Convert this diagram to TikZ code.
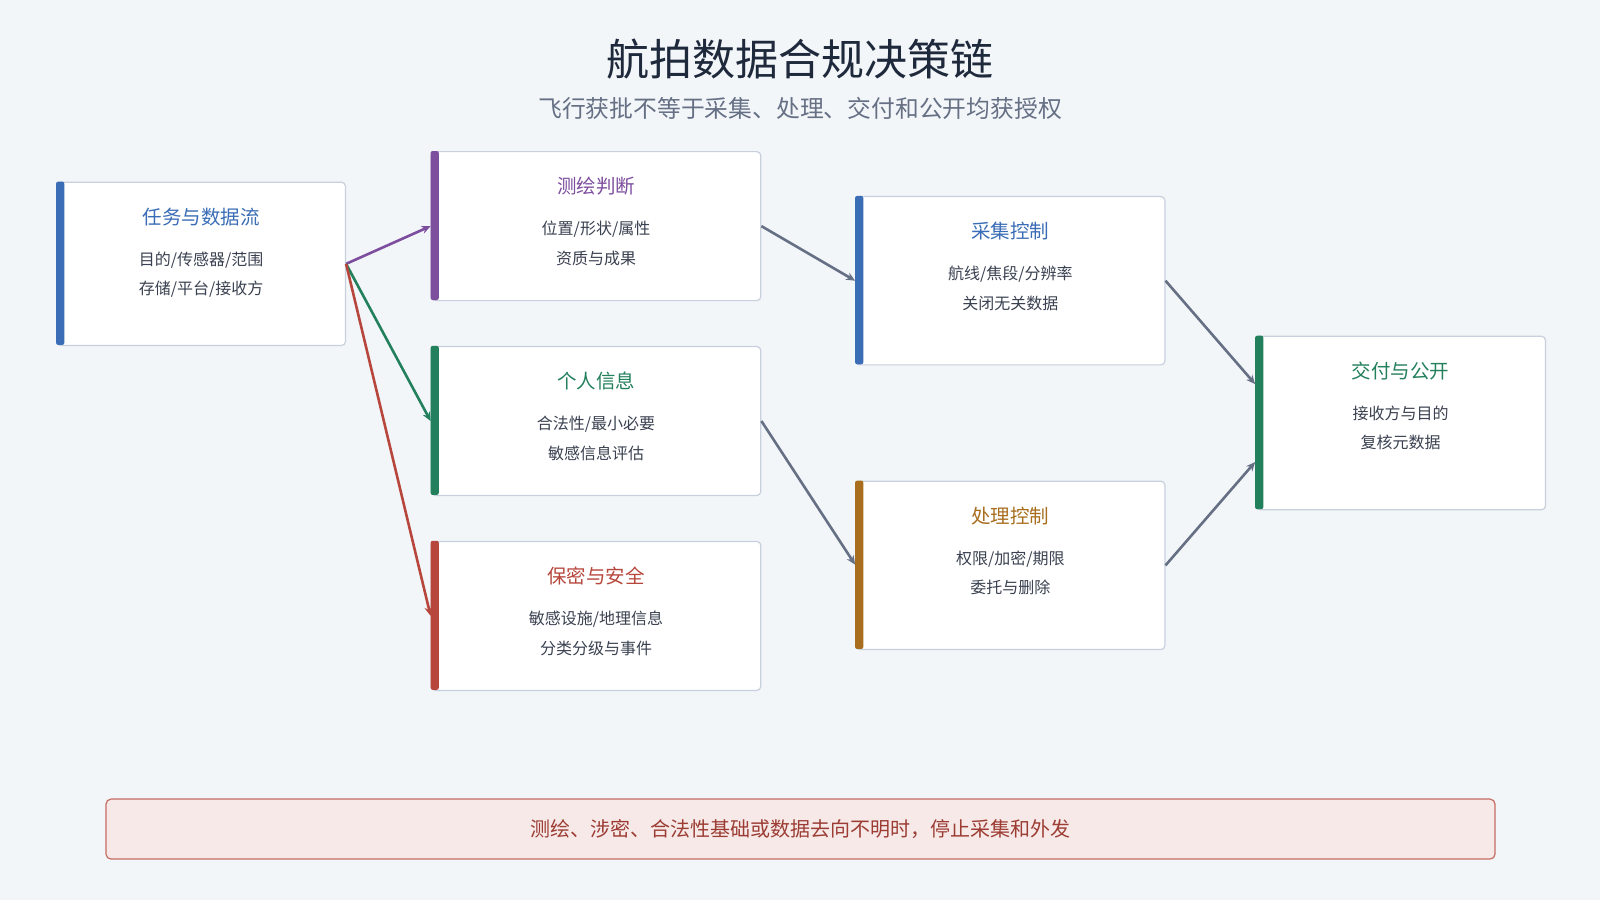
\documentclass[tikz,border=0pt]{standalone}
\usepackage{fontspec}
\setmainfont{Noto Sans CJK SC}
\usetikzlibrary{positioning, arrows.meta}
\definecolor{bg}{HTML}{F3F6F9}
\definecolor{cblue}{HTML}{3A6DB5}
\definecolor{cpurple}{HTML}{7D4E9E}
\definecolor{cgreen}{HTML}{22805C}
\definecolor{cred}{HTML}{B7473C}
\definecolor{corange}{HTML}{A86E1E}
\definecolor{cgray}{HTML}{667085}
\definecolor{ctext}{HTML}{3A4150}
\definecolor{ctitle}{HTML}{1E293B}
\definecolor{cborder}{HTML}{C7D0DC}
\tikzset{
  box/.style={draw=cborder, line width=1.2pt, fill=white, rounded corners=4pt, anchor=north west, inner sep=0pt},
  ttl/.style={font=\fontsize{19.5}{22}\selectfont},
  txt/.style={font=\fontsize{16}{29.5}\selectfont, text=ctext, align=center},
  flow/.style={line width=2.6pt, -{Stealth[length=9pt, width=8pt]}},
}
\newcommand{\stepbox}[9]{%
  % name, x, y, w, h, colour, title, line 1, line 2
  \node[box, minimum width=1.0204*#4pt, minimum height=1.0204*#5pt] (#1) at (#2,-#3) {};
  \fill[#6, rounded corners=2pt] (#1.north west) rectangle ++(8,-#5);
  \node[ttl, text=#6, below=35pt of #1.north, anchor=center] (#1t) {#7};
  \node[txt, below=19pt of #1t] (#1l) {#8\\#9};
}
\begin{document}
\begin{tikzpicture}[x=1.0204pt, y=1.0204pt]
\fill[bg] (0,0) rectangle (1568,-882);
\useasboundingbox (0,0) rectangle (1568,-882);
% title
\node[font=\fontsize{43}{48}\selectfont, text=ctitle] (title) at (784,-58) {航拍数据合规决策链};
\node[font=\fontsize{23.8}{28}\selectfont, text=cgray] (sub) at (784,-106) {飞行获批不等于采集、处理、交付和公开均获授权};
% steps
\stepbox{task}{55}{178}{283}{160}{cblue}{任务与数据流}{目的/传感器/范围}{存储/平台/接收方}
\stepbox{survey}{422}{148}{323}{146}{cpurple}{测绘判断}{位置/形状/属性}{资质与成果}
\stepbox{priv}{422}{339}{323}{146}{cgreen}{个人信息}{合法性/最小必要}{敏感信息评估}
\stepbox{secret}{422}{530}{323}{146}{cred}{保密与安全}{敏感设施/地理信息}{分类分级与事件}
\stepbox{collect}{838}{192}{303}{165}{cblue}{采集控制}{航线/焦段/分辨率}{关闭无关数据}
\stepbox{proc}{838}{471}{303}{165}{corange}{处理控制}{权限/加密/期限}{委托与删除}
\stepbox{deliver}{1230}{329}{284}{170}{cgreen}{交付与公开}{接收方与目的}{复核元数据}
% arrows
\draw[flow, cpurple] (task.east) -- (survey.west);
\draw[flow, cgreen] (task.east) -- (priv.west);
\draw[flow, cred] (task.east) -- (secret.west);
\draw[flow, cgray] (survey.east) -- (collect.west);
\draw[flow, cgray] (priv.east) -- ([yshift=-84pt]proc.north west);
\draw[flow, cgray] (collect.east) -- ([yshift=39pt]deliver.west);
\draw[flow, cgray] (proc.east) -- ([yshift=-39pt]deliver.west);
% warning
\node[draw=cred!80, line width=1.2pt, fill=cred!12, rounded corners=5pt, minimum width=1389pt, minimum height=60pt, text=cred!85!black, font=\fontsize{20}{24}\selectfont] (warn) at (784.5,-812.5) {测绘、涉密、合法性基础或数据去向不明时，停止采集和外发};
\end{tikzpicture}
\end{document}
